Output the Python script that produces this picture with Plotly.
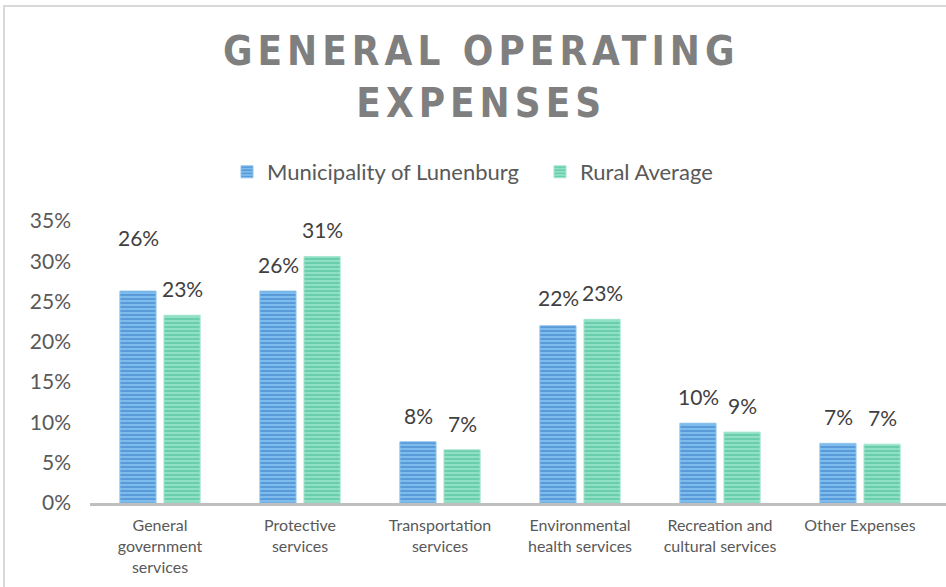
import plotly.graph_objects as go

categories = ["General<br>government<br>services", "Protective<br>services", "Transportation<br>services",
              "Environmental<br>health services", "Recreation and<br>cultural services", "Other Expenses"]
lunenburg = [0.263, 0.263, 0.076, 0.220, 0.099, 0.074]
rural = [0.233, 0.306, 0.066, 0.228, 0.088, 0.073]
series_names = ["Municipality of Lunenburg", "Rural Average"]
tick_vals = [0, 0.05, 0.10, 0.15, 0.20, 0.25, 0.30, 0.35]
tick_text = ["0%", "5%", "10%", "15%", "20%", "25%", "30%", "35%"]

# style: extra lift (px) of individual data labels, as placed in the original
lift_lunenburg = [27, 0, 0, 2, 0, 0]
lift_rural = [0, 0, 0, 0, 0, 0]

L, R, T, B = 90, 0, 221, 84
W, H = 946, 587
pw, ph = W - L - R, H - T - B
CAT_PX = 140


def px_x(x):
    return (x - L) / pw


def px_y(y):
    return (H - B - y) / ph


fig = go.Figure()
fig.add_trace(go.Bar(
    x=categories, y=lunenburg, name=series_names[0],
    marker=dict(color="#2c74c0", line=dict(color="#8cc4ee", width=1),
                pattern=dict(shape="-", bgcolor="#7dbcec", fgcolor="#2c74c0", size=4, solidity=0.45)),
))
fig.add_trace(go.Bar(
    x=categories, y=rural, name=series_names[1],
    marker=dict(color="#3cb68c", line=dict(color="#a5e6cf", width=1),
                pattern=dict(shape="-", bgcolor="#8fe0c4", fgcolor="#3cb68c", size=4, solidity=0.45)),
))

annotations = []
for vals, lifts, dx in ((lunenburg, lift_lunenburg, -22), (rural, lift_rural, 22)):
    for c, v, lf in zip(categories, vals, lifts):
        annotations.append(dict(x=c, y=v, xref="x", yref="y", text=f"{v:.0%}", showarrow=False,
                                xshift=dx, yshift=12 + lf, yanchor="bottom",
                                font=dict(size=21, color="#404040", family="Lato")))

title_style = "letter-spacing:5px"
annotations.append(dict(x=px_x(481), y=px_y(77), xref="paper", yref="paper", showarrow=False,
                        text=f"<b><span style='{title_style}'>GENERAL OPERATING</span></b><br>"
                             f"<b><span style='{title_style}'>EXPENSES</span></b>",
                        xanchor="center", yanchor="middle",
                        font=dict(size=40, color="#7f7f7f", family="DejaVu Sans Condensed")))

fig.update_layout(
    width=W, height=H,
    margin=dict(l=L, r=R, t=T, b=B),
    paper_bgcolor="white", plot_bgcolor="white",
    barmode="group", bargap=0.37, bargroupgap=0.18,
    showlegend=True,
    legend=dict(orientation="h", x=px_x(227), xanchor="left", y=px_y(172), yanchor="middle",
                font=dict(size=22, color="#595959", family="Lato"), itemwidth=30,
                entrywidth=268, entrywidthmode="pixels",
                traceorder="normal"),
    xaxis=dict(showline=True, linecolor="#bfbfbf", linewidth=3, ticks="",
               range=[-0.5, 5.5 + (pw - 6 * CAT_PX) / CAT_PX],
               ticklabelstandoff=6,
               tickfont=dict(size=16, color="#595959", family="Lato"), showgrid=False),
    yaxis=dict(range=[0, 0.35], tickvals=tick_vals, ticktext=tick_text, showgrid=False,
               zeroline=False, showline=False, ticks="", ticklabelstandoff=18,
               tickfont=dict(size=21, color="#595959", family="Lato")),
    annotations=annotations,
    shapes=[dict(type="rect", xref="paper", yref="paper",
                 x0=px_x(4), x1=px_x(960), y0=px_y(600), y1=px_y(6),
                 line=dict(color="#d9d9d9", width=2), layer="below")],
)

fig.write_html("out.html", config={"displayModeBar": False},
               post_script="document.body.style.margin='0';document.body.style.overflow='hidden';")
